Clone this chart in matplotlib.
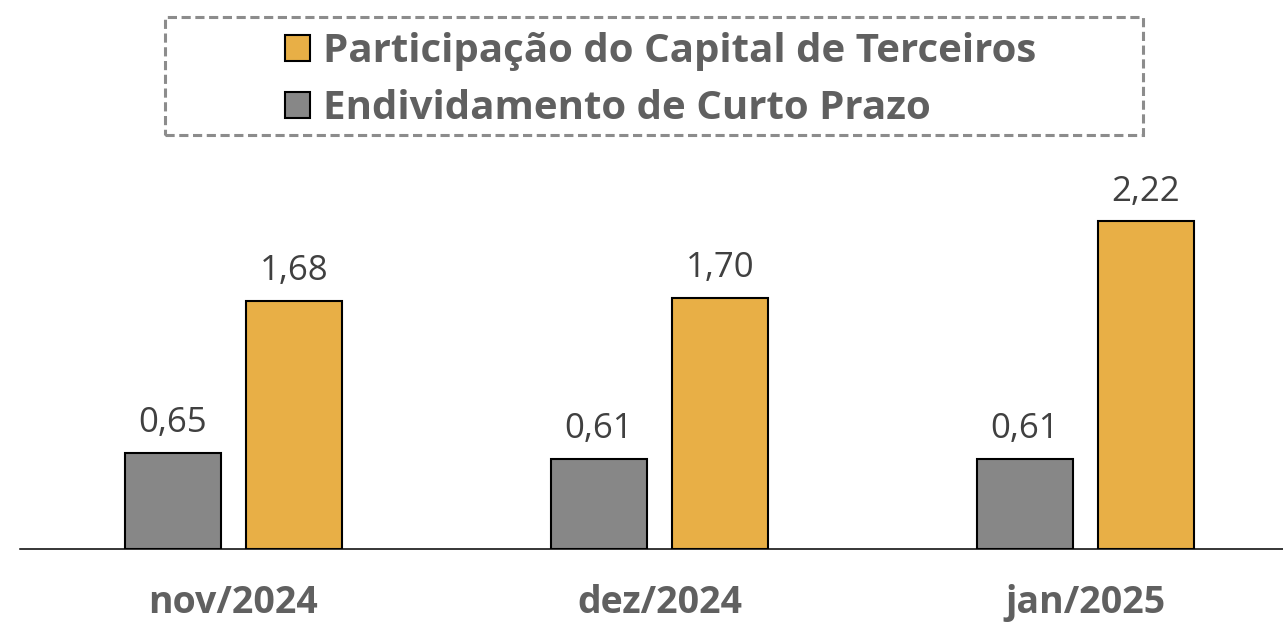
import matplotlib.pyplot as plt
from matplotlib.patches import Patch, Rectangle
import numpy as np

# data
periodos = ['nov/2024', 'dez/2024', 'jan/2025']
endividamento_cp = [0.65, 0.61, 0.61]
part_capital_terc = [1.68, 1.70, 2.22]
nomes = ['Participação do Capital de Terceiros', 'Endividamento de Curto Prazo']

COR_OURO = '#E8AF46'
COR_CINZA = '#878787'
COR_TEXTO = '#606060'

plt.rcParams['font.family'] = ['Open Sans', 'DejaVu Sans']

fig = plt.figure(figsize=(12.83, 6.23), dpi=100)
ax = fig.add_axes([20 / 1283, 74 / 623, 1 - 20 / 1283, 549 / 623])

x = np.arange(len(periodos))
w = 0.225
off = 0.1425
b1 = ax.bar(x - off, endividamento_cp, w, color=COR_CINZA, edgecolor='black', linewidth=1.5, zorder=3)
b2 = ax.bar(x + off, part_capital_terc, w, color=COR_OURO, edgecolor='black', linewidth=1.5, zorder=3)

fmt = lambda v: f'{v:.2f}'.replace('.', ',')
for bars, vals in ((b1, endividamento_cp), (b2, part_capital_terc)):
    ax.bar_label(bars, labels=[fmt(v) for v in vals], padding=9, fontsize=25, color='#404040')

ax.set_xlim(-0.501, 2.464)
ax.set_ylim(0, 549 / 147.7)
ax.set_xticks(x)
ax.set_xticklabels(periodos, fontsize=27, fontweight='bold', color=COR_TEXTO)
ax.tick_params(axis='x', length=0, pad=25)
ax.set_yticks([])
for s in ('top', 'left', 'right'):
    ax.spines[s].set_visible(False)
ax.spines['bottom'].set_linewidth(1.1)
ax.spines['bottom'].set_color('black')

# legenda
handles = [Patch(facecolor=COR_OURO, edgecolor='black', linewidth=1.5),
           Patch(facecolor=COR_CINZA, edgecolor='black', linewidth=1.5)]
leg = fig.legend(handles, nomes, loc='upper left', bbox_to_anchor=(265 / 1283, 1 - 12 / 623),
                 frameon=False, fontsize=29, handlelength=0.62, handleheight=0.62,
                 handletextpad=0.33, labelspacing=0.45, borderpad=0)
for t in leg.get_texts():
    t.set_fontweight('bold')
    t.set_color(COR_TEXTO)

fig.add_artist(Rectangle((165 / 1283, 1 - 135 / 623), 978 / 1283, 118 / 623,
                         transform=fig.transFigure, fill=False, edgecolor='#8c8c8c',
                         linewidth=2.2, linestyle=(0, (3, 1.5))))

fig.savefig('out.png', dpi=100)
